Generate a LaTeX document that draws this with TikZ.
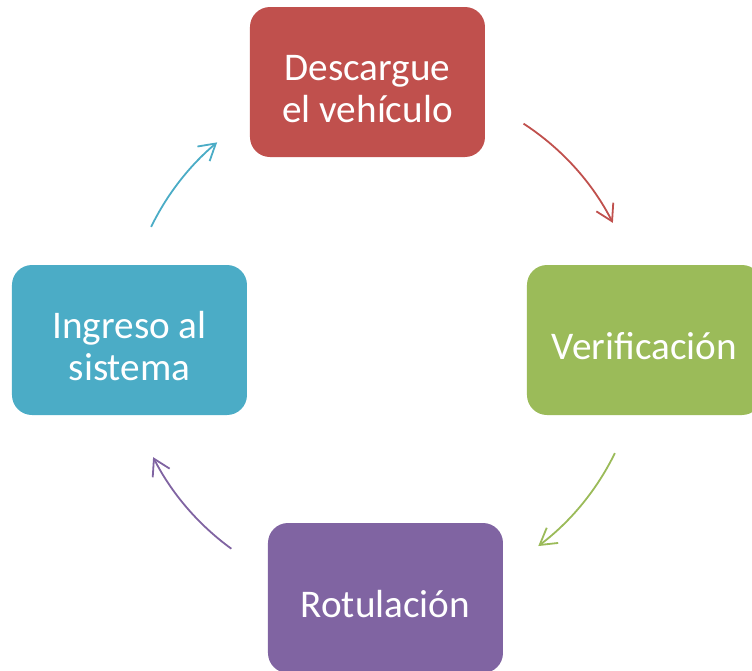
\documentclass[tikz,border=0pt]{standalone}
\usepackage{fontspec}
\setmainfont{Carlito}
\usepackage{xcolor}
\usepackage{tikz}
\usetikzlibrary{arrows.meta, positioning}

\definecolor{rojo}{HTML}{C0504D}
\definecolor{verde}{HTML}{9BBB59}
\definecolor{morado}{HTML}{8064A2}
\definecolor{azul}{HTML}{4BACC6}
\newcommand{\alto}{\rule{0pt}{19.5pt}}

\begin{document}
\begin{tikzpicture}[x=0.5pt, y=0.5pt,
		every node/.style={draw=none, rounded corners=10pt, minimum width=117.5pt, minimum height=75pt, align=center, text=white, font=\fontsize{19.6}{21.3}\selectfont}, % boxes
		flecha/.style={line width=0.9pt, -{Straight Barb[length=8pt, width=9.5pt]}} % curved arrows
		]
		\useasboundingbox (-383,-331) rectangle (369,340);
		% Steps of the cycle
		\node[fill=rojo] (descarga) at (-15.5,258) {\alto Descargue\\el vehículo};
		\node[fill=verde] (verif) at (261.5,0) {\alto Verificación};
		\node[fill=morado] (rotul) at (2.5,-258) {\alto Rotulación};
		\node[fill=azul] (ingreso) at (-253.5,0) {\alto Ingreso al\\sistema};
		% Arrow start points on the circle
		\coordinate (a1) at (57:258);
		\coordinate (a2) at (-26:258);
		\coordinate (a3) at (234:258);
		\coordinate (a4) at (154:258);
		% Arrows
		\draw[flecha, rojo] (a1) arc[start angle=57, end angle=27, radius=258];
		\draw[flecha, verde] (a2) arc[start angle=-26, end angle=-53, radius=258];
		\draw[flecha, morado] (a3) arc[start angle=234, end angle=207, radius=258];
		\draw[flecha, azul] (a4) arc[start angle=154, end angle=130, radius=258];
	\end{tikzpicture}
\end{document}
